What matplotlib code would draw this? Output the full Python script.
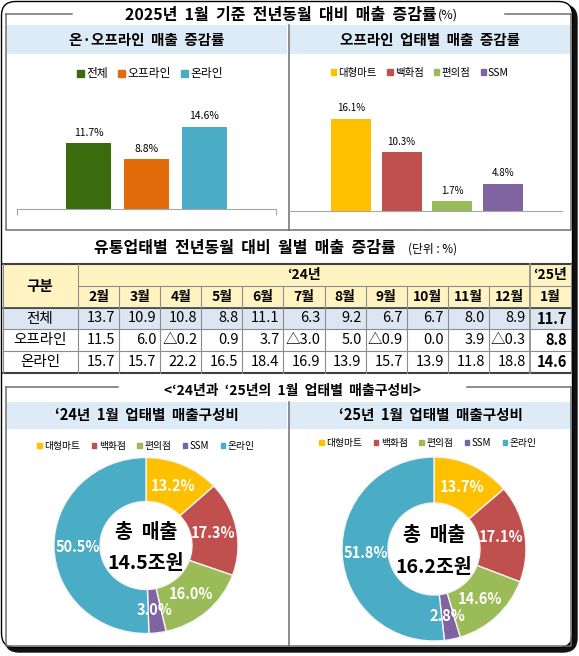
import matplotlib
matplotlib.use("Agg")
import matplotlib.pyplot as plt
from matplotlib.patches import Rectangle, FancyBboxPatch, Patch

plt.rcParams['font.family'] = ['Noto Sans CJK KR', 'DejaVu Sans']

# ---- data ----
top_left_cats = ['전체', '오프라인', '온라인']
top_left_vals = [11.7, 8.8, 14.6]
top_left_colors = ['#3A6B0C', '#E36C0A', '#4BACC6']

top_right_cats = ['대형마트', '백화점', '편의점', 'SSM']
top_right_vals = [16.1, 10.3, 1.7, 4.8]

table_months = ['2월', '3월', '4월', '5월', '6월', '7월', '8월', '9월', '10월', '11월', '12월', '1월']
row_names = ['전체', '오프라인', '온라인']
row_total = ['13.7', '10.9', '10.8', '8.8', '11.1', '6.3', '9.2', '6.7', '6.7', '8.0', '8.9', '11.7']
row_offline = ['11.5', '6.0', '△0.2', '0.9', '3.7', '△3.0', '5.0', '△0.9', '0.0', '3.9', '△0.3', '8.8']
row_online = ['15.7', '15.7', '22.2', '16.5', '18.4', '16.9', '13.9', '15.7', '13.9', '11.8', '18.8', '14.6']

share_cats = ['대형마트', '백화점', '편의점', 'SSM', '온라인']
share_colors = ['#FFC000', '#C0504D', '#9BBB59', '#8064A2', '#4BACC6']
share_2024 = [13.2, 17.3, 16.0, 3.0, 50.5]
share_2025 = [13.7, 17.1, 14.6, 2.8, 51.8]
total_2024 = '14.5조원'
total_2025 = '16.2조원'

W, H = 579, 656
fig = plt.figure(figsize=(W / 100, H / 100), dpi=100)
fig.patch.set_facecolor('white')


def rect(x0, y0, x1, y1):
    return [x0 / W, 1 - y1 / H, (x1 - x0) / W, (y1 - y0) / H]


ax0 = fig.add_axes([0, 0, 1, 1], zorder=0)
ax0.set_xlim(0, W)
ax0.set_ylim(H, 0)
ax0.axis('off')

# outer frame with shadow
ax0.add_patch(FancyBboxPatch((5, 5), 572, 647, boxstyle='round,pad=0,rounding_size=14',
                             fc='#111111', ec='#111111', lw=1))
ax0.add_patch(FancyBboxPatch((1.5, 1.5), 571, 646, boxstyle='round,pad=0,rounding_size=14',
                             fc='white', ec='black', lw=1))

box_c = '#6E6E6E'
band_c = '#DDEBF7'


def section(y0, y1, gap0, gap1, band0, band1):
    ax0.plot([6, gap0], [y0, y0], color=box_c, lw=1.1)
    ax0.plot([gap1, 571], [y0, y0], color=box_c, lw=1.1)
    ax0.plot([6, 6, 571, 571], [y0, y1, y1, y0], color=box_c, lw=1.1)
    ax0.add_patch(Rectangle((7, band0), 280, band1 - band0, fc=band_c, ec='none'))
    ax0.add_patch(Rectangle((289.5, band0), 281, band1 - band0, fc=band_c, ec='none'))
    ax0.plot([288.5, 288.5], [band0, y1], color=box_c, lw=1.1)


section(14, 230, 72, 505, 25, 54)
section(387, 646, 118, 467, 402, 429)

ax0.text(437, 15, '2025년  1월  기준  전년동월  대비  매출  증감률', fontsize=11.5, fontweight='bold',
         ha='right', va='center')
ax0.text(438, 15.5, '(%)', fontsize=9, ha='left', va='center')
ax0.text(147, 40, '온·오프라인  매출  증감률', fontsize=10.5, fontweight='bold', ha='center', va='center')
ax0.text(430, 40, '오프라인  업태별  매출  증감률', fontsize=10.5, fontweight='bold', ha='center', va='center')

# ---- top bar charts ----
axL = fig.add_axes(rect(17, 96.4, 276, 209), zorder=2)
bl = axL.bar(range(3), top_left_vals, width=0.78, color=top_left_colors)
axL.bar_label(bl, labels=[f'{v}%' for v in top_left_vals], padding=4, fontsize=7.5)
axL.set_xlim(-1.25, 3.25)
axL.set_ylim(0, 20)

axR = fig.add_axes(rect(289, 96.6, 562, 211), zorder=2)
right_colors = share_colors[:4]
br = axR.bar(range(4), top_right_vals, width=0.79, color=right_colors)
axR.bar_label(br, labels=[f'{v}%' for v in top_right_vals], padding=4, fontsize=7)
axR.set_xlim(-1.22, 4.16)
axR.set_ylim(0, 20)

for a in (axL, axR):
    a.set_facecolor('none')
    for s in ('top', 'right', 'left'):
        a.spines[s].set_visible(False)
    a.spines['bottom'].set_color('#A6A6A6')
    a.set_yticks([])
axL.set_xticks([-1.25, 3.25], ['', ''])
axL.tick_params(axis='x', length=4, color='#A6A6A6')
axR.set_xticks([])

axL.legend([Patch(color=c) for c in top_left_colors], top_left_cats, loc='center',
           bbox_to_anchor=(150 / W, 1 - 74 / H), bbox_transform=fig.transFigure, ncol=3,
           frameon=False, fontsize=8.5, handlelength=0.55, handleheight=0.55,
           handletextpad=0.2, columnspacing=0.9)
axR.legend([Patch(color=c) for c in right_colors], top_right_cats, loc='center',
           bbox_to_anchor=(420 / W, 1 - 73 / H), bbox_transform=fig.transFigure, ncol=4,
           frameon=False, fontsize=7.5, handlelength=0.5, handleheight=0.5,
           handletextpad=0.2, columnspacing=1.0)

# ---- monthly table ----
ax0.text(396, 248, '유통업태별  전년동월  대비  월별  매출  증감률', fontsize=11.5, fontweight='bold',
         ha='right', va='center')
ax0.text(408, 249, '(단위 : %)', fontsize=8.5, ha='left', va='center')

col_edges = [3, 78] + [78 + (571 - 78) * (i + 1) / 12 for i in range(12)]
row_edges = [264, 286, 308, 329, 351, 373]
head_c = '#FFF4C1'
grid_c = '#8C8C8C'
num_font = ['Liberation Sans Narrow', 'Noto Sans CJK KR', 'DejaVu Sans']

ax0.add_patch(Rectangle((3, 264), 568, 44, fc=head_c, ec='none'))
ax0.add_patch(Rectangle((3, 308), 568, 21, fc='#DCE6F2', ec='none'))
for y in row_edges[2:-1]:
    ax0.plot([3, 571], [y, y], color=grid_c, lw=0.8)
ax0.plot([78, 571], [286, 286], color=grid_c, lw=0.8)
ax0.plot([3, 571], [264, 264], color='#404040', lw=1.5)
ax0.plot([3, 571], [308, 308], color='#404040', lw=1.2)
ax0.plot([3, 571], [373, 373], color='#404040', lw=1.5)
for i, x in enumerate(col_edges):
    top = 264 if i in (0, 1, 12, 13) else 286
    lw = 1.3 if i == 12 else 0.8
    ax0.plot([x, x], [top, 373], color=grid_c, lw=lw)

ax0.text(40, 286, '구분', fontsize=10.5, fontweight='bold', ha='center', va='center')
ax0.text((78 + col_edges[12]) / 2, 275, '‘24년', fontsize=10, fontweight='bold',
         ha='center', va='center')
ax0.text((col_edges[12] + 571) / 2, 275, '‘25년', fontsize=10, fontweight='bold',
         ha='center', va='center')
for i, m in enumerate(table_months):
    ax0.text((col_edges[i + 1] + col_edges[i + 2]) / 2, 297.5, m, fontsize=10,
             fontweight='bold', ha='center', va='center')

for r, (name, vals) in enumerate(zip(row_names, [row_total, row_offline, row_online])):
    yc = (row_edges[r + 2] + row_edges[r + 3]) / 2
    ax0.text(40, yc, name, fontsize=10.5, ha='center', va='center')
    for i, v in enumerate(vals):
        bold = i == len(vals) - 1
        ax0.text(col_edges[i + 2] - 4, yc, v, fontsize=10.5, family=num_font,
                 fontweight='bold' if bold else 'normal', ha='right', va='center')

# ---- donuts ----
ax0.text(292, 391, '<‘24년과  ‘25년의  1월  업태별  매출구성비>', fontsize=10, fontweight='bold',
         ha='center', va='center')
ax0.text(147, 415, '‘24년  1월  업태별  매출구성비', fontsize=10.5, fontweight='bold',
         ha='center', va='center')
ax0.text(431, 415, '‘25년  1월  업태별  매출구성비', fontsize=10.5, fontweight='bold',
         ha='center', va='center')


def donut(cx, cy, rx, ry, vals, total, legend_xy):
    ax = fig.add_axes(rect(cx - rx, cy - ry, cx + rx, cy + ry), zorder=2)
    wedges, _, pcts = ax.pie(vals, colors=share_colors, startangle=90, counterclock=False,
                             radius=1, autopct=lambda p: f'{p:.1f}%', pctdistance=0.74,
                             wedgeprops=dict(width=0.5, edgecolor='#F4F4F4', linewidth=1))
    for t in pcts:
        t.set_color('white')
        t.set_fontsize(10.5)
        t.set_fontweight('bold')
    ax.set_aspect('auto')
    ax.set_xlim(-1, 1)
    ax.set_ylim(-1, 1)
    ax.text(0, 0.15, '총  매출', fontsize=14, fontweight='bold', ha='center', va='center')
    ax.text(0, -0.2, total, fontsize=14, fontweight='bold', ha='center', va='center')
    ax.legend([Patch(color=c) for c in share_colors], share_cats, loc='center',
              bbox_to_anchor=(legend_xy[0] / W, 1 - legend_xy[1] / H),
              bbox_transform=fig.transFigure, ncol=5, frameon=False, fontsize=7,
              handlelength=0.45, handleheight=0.45, handletextpad=0.25, columnspacing=1.2)


donut(146, 545.5, 92, 88, share_2024, total_2024, (146, 446))
donut(434, 549, 92, 92, share_2025, total_2025, (428, 443))

fig.savefig('out.png', dpi=100, facecolor='white')
